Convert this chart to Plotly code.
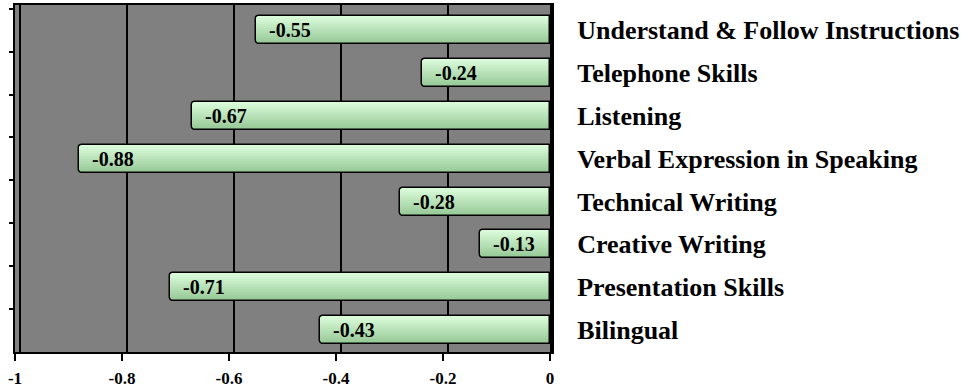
import plotly.graph_objects as go

categories = [
    "Understand & Follow Instructions",
    "Telephone Skills",
    "Listening",
    "Verbal Expression in Speaking",
    "Technical Writing",
    "Creative Writing",
    "Presentation Skills",
    "Bilingual",
]
values = [-0.55, -0.24, -0.67, -0.88, -0.28, -0.13, -0.71, -0.43]
x_tickvals = [-1, -0.8, -0.6, -0.4, -0.2, 0]
x_ticktext = ["-1", "-0.8", "-0.6", "-0.4", "-0.2", "0"]

FONT = "Liberation Serif, Times New Roman, serif"
BAR_W = 0.65
N_STRIPS = 14
top_rgb = (218, 251, 218)
bot_rgb = (150, 200, 150)

fig = go.Figure()

# gradient fill built from horizontal strips
sw = BAR_W / N_STRIPS
for i in range(N_STRIPS):
    t = i / (N_STRIPS - 1)
    c = tuple(round(top_rgb[k] + (bot_rgb[k] - top_rgb[k]) * t) for k in range(3))
    fig.add_trace(go.Bar(
        x=values, y=categories, orientation="h",
        width=sw + 0.004, offset=-BAR_W / 2 + i * sw,
        marker=dict(color="rgb(%d,%d,%d)" % c, line=dict(width=0)),
        hoverinfo="skip", showlegend=False,
    ))

# outline
fig.add_trace(go.Bar(
    x=values, y=categories, orientation="h",
    width=BAR_W, offset=-BAR_W / 2,
    marker=dict(color="rgba(0,0,0,0)", line=dict(color="black", width=1.5), cornerradius=4),
    hovertemplate="%{y}: %{x:.2f}<extra></extra>", showlegend=False,
))

# helper trace for the overlay axes (right-hand labels and back-wall grid)
fig.add_trace(go.Scatter(
    x=values, y=categories, xaxis="x2", yaxis="y2", mode="markers",
    marker=dict(opacity=0), hoverinfo="skip", showlegend=False,
))

for v, c in zip(values, categories):
    fig.add_annotation(
        x=v, y=c, xref="x", yref="y", text="%.2f" % v, showarrow=False,
        xanchor="left", xshift=11,
        font=dict(family=FONT, size=20, color="black", weight="bold"),
    )

yrange = [7.514, -0.593]
shift = 5 / 535

fig.update_layout(
    width=969, height=390,
    margin=dict(l=15, r=419, t=5, b=38, autoexpand=False),
    paper_bgcolor="white", plot_bgcolor="#808080",
    barmode="overlay", bargap=0,
    xaxis=dict(
        range=[-1, 0], tickvals=x_tickvals, ticktext=x_ticktext,
        showgrid=False, zeroline=False, automargin=False,
        showline=True, linecolor="black", linewidth=2, mirror=True,
        ticks="outside", ticklen=7, tickwidth=1.5, tickcolor="black",
        ticklabelstandoff=3,
        tickfont=dict(family=FONT, size=17, color="black", weight="bold"),
    ),
    xaxis2=dict(
        overlaying="x", range=[-1 - shift, 0 - shift], tickvals=x_tickvals,
        showgrid=True, gridcolor="black", gridwidth=1.5, zeroline=False,
        showticklabels=False, ticks="", showline=False, automargin=False,
    ),
    yaxis=dict(
        type="category", categoryorder="array", categoryarray=categories,
        range=yrange, showgrid=False, zeroline=False, automargin=False,
        showline=True, linecolor="black", linewidth=2,
        ticks="outside", ticklen=4, tickwidth=1.5, tickcolor="black",
        tickson="boundaries", showticklabels=False,
    ),
    yaxis2=dict(
        type="category", categoryorder="array", categoryarray=categories,
        overlaying="y", side="right", range=yrange, automargin=False,
        showgrid=False, zeroline=False,
        showline=True, linecolor="black", linewidth=4,
        ticks="", ticklabelstandoff=18,
        tickfont=dict(family=FONT, size=26, color="black", weight="bold"),
    ),
)

fig.write_html("out.html")
